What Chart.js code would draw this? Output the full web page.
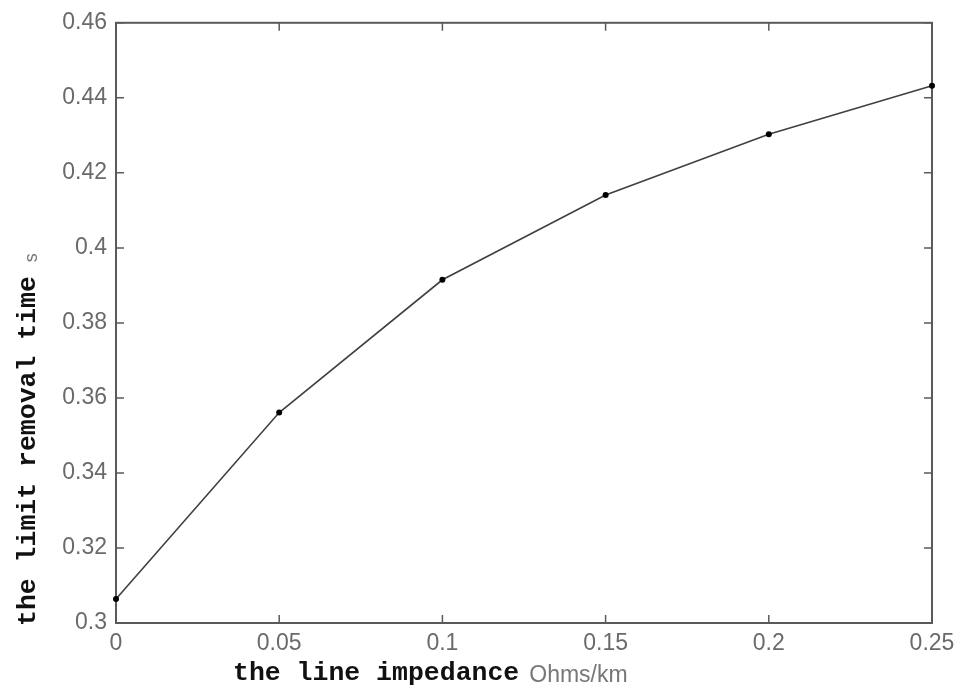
<!DOCTYPE html>
<html>
<head>
<meta charset="utf-8">
<script src="https://cdn.jsdelivr.net/npm/chart.js@4.4.1/dist/chart.umd.min.js"></script>
<style>
  html, body { margin: 0; padding: 0; background: #fff; }
  #wrap { width: 965px; height: 690px; }
</style>
</head>
<body>
<div id="wrap"><canvas id="c" width="965" height="690"></canvas></div>
<script>
// line impedance (Ohms/km) vs limit removal time (s)
const impedance = [0, 0.05, 0.1, 0.15, 0.2, 0.25];
const removalTime = [0.3064, 0.3561, 0.3915, 0.4141, 0.4303, 0.4432];
const xTicks = [0, 0.05, 0.1, 0.15, 0.2, 0.25];
const yTicks = [0.3, 0.32, 0.34, 0.36, 0.38, 0.4, 0.42, 0.44, 0.46];

const tickFont = { family: 'Liberation Sans, Arial, sans-serif', size: 23 };
const tickColor = '#6a6a6a';

// MATLAB-ish box with inward ticks, and the two mixed-font axis titles
const boxPlugin = {
    id: 'box',
    beforeDatasetsDraw(chart) {
        const { ctx, chartArea: a, scales } = chart;
        ctx.save();
        ctx.strokeStyle = '#5a5a5a';
        ctx.lineWidth = 2;
        ctx.strokeRect(a.left, a.top, a.right - a.left, a.bottom - a.top);
        ctx.lineWidth = 1.5;
        const len = 8;
        ctx.beginPath();
        xTicks.forEach(v => {
            const px = scales.x.getPixelForValue(v);
            ctx.moveTo(px, a.bottom); ctx.lineTo(px, a.bottom - len);
            ctx.moveTo(px, a.top); ctx.lineTo(px, a.top + len);
        });
        yTicks.forEach(v => {
            const py = scales.y.getPixelForValue(v);
            ctx.moveTo(a.left, py); ctx.lineTo(a.left + len, py);
            ctx.moveTo(a.right, py); ctx.lineTo(a.right - len, py);
        });
        ctx.stroke();
        ctx.restore();
    },
    afterDraw(chart) {
        const { ctx } = chart;
        ctx.save();
        // x title
        ctx.textBaseline = 'alphabetic';
        ctx.textAlign = 'left';
        ctx.fillStyle = '#111';
        ctx.font = 'bold 26.5px "Liberation Mono", "Courier New", monospace';
        const xt = 'the line impedance';
        const xStart = 233;
        ctx.fillText(xt, xStart, 680);
        const w = ctx.measureText(xt).width;
        ctx.fillStyle = '#777';
        ctx.font = '23px "Liberation Sans", Arial, sans-serif';
        ctx.fillText('Ohms/km', xStart + w + 10, 682);
        // y title (rotated)
        ctx.translate(35, 626);
        ctx.rotate(-Math.PI / 2);
        ctx.fillStyle = '#111';
        ctx.font = 'bold 26.5px "Liberation Mono", "Courier New", monospace';
        const yt = 'the limit removal time';
        ctx.fillText(yt, 0, 0);
        const wy = ctx.measureText(yt).width;
        ctx.fillStyle = '#777';
        ctx.font = '18px "Liberation Sans", Arial, sans-serif';
        ctx.fillText('s', wy + 14, 2);
        ctx.restore();
    }
};

new Chart(document.getElementById('c'), {
    type: 'scatter',
    data: {
        datasets: [{
            data: impedance.map((x, i) => ({ x: x, y: removalTime[i] })),
            showLine: true,
            clip: false,
            borderColor: '#404040',
            borderWidth: 1.6,
            pointRadius: 3,
            pointBackgroundColor: '#000',
            pointBorderColor: '#000',
            pointBorderWidth: 0,
            tension: 0
        }]
    },
    options: {
        responsive: false,
        animation: false,
        layout: { padding: { top: 21, right: 33, left: 0, bottom: 0 } },
        plugins: { legend: { display: false }, tooltip: { enabled: false } },
        scales: {
            x: {
                type: 'linear',
                min: 0, max: 0.25,
                afterBuildTicks: s => { s.ticks = xTicks.map(v => ({ value: v })); },
                afterFit: s => { s.height = 67; },
                grid: { display: false, drawTicks: false },
                border: { display: false },
                ticks: { color: tickColor, font: tickFont, padding: 7, maxRotation: 0,
                         callback: v => String(+v.toFixed(2)) }
            },
            y: {
                type: 'linear',
                min: 0.3, max: 0.46,
                afterBuildTicks: s => { s.ticks = yTicks.map(v => ({ value: v })); },
                afterFit: s => { s.width = 116; },
                grid: { display: false, drawTicks: false },
                border: { display: false },
                ticks: { color: tickColor, font: tickFont, padding: 9,
                         callback: v => String(+v.toFixed(2)) }
            }
        }
    },
    plugins: [boxPlugin]
});
</script>
</body>
</html>
